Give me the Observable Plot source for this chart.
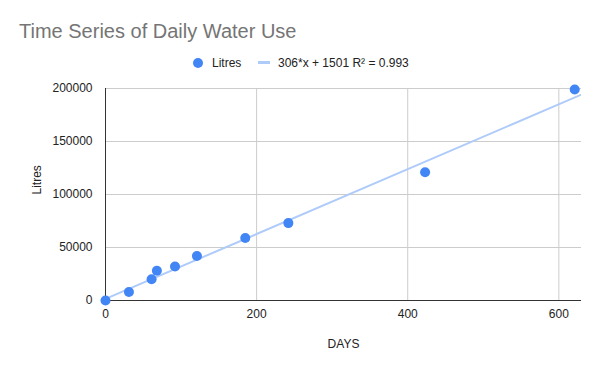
<!DOCTYPE html>
<html><head><meta charset="utf-8">
<script src="https://cdn.jsdelivr.net/npm/d3@7"></script>
<script src="https://cdn.jsdelivr.net/npm/@observablehq/plot@0.6"></script>
<style>
html,body{margin:0;padding:0;background:#fff;font-family:"Liberation Sans",Arial,sans-serif;}
#wrap{position:relative;width:600px;height:371px;overflow:hidden;}
#title{position:absolute;left:19px;top:21px;font-size:20px;line-height:20px;color:#757575;white-space:nowrap;}
.lg{position:absolute;font-size:12px;line-height:12px;color:#222;white-space:nowrap;}
#chart{position:absolute;left:0;top:70px;}
</style></head>
<body><div id="wrap">
<div id="title">Time Series of Daily Water Use</div>
<span style="position:absolute;left:192.5px;top:57.5px;width:10px;height:10px;border-radius:50%;background:#4285f4"></span>
<span class="lg" style="left:212px;top:56.5px">Litres</span>
<span style="position:absolute;left:258px;top:61px;width:12px;height:3px;background:#aecbfa"></span>
<span class="lg" style="left:278px;top:56.5px">306*x + 1501 R² = 0.993</span>
<div id="chart"></div>
</div>
<script>
const days = [0, 31, 61, 68, 92, 121, 185, 242, 423, 621];
const litres = [0, 8000, 20000, 28000, 32000, 42000, 59000, 73000, 121000, 199000];
const trendSlope = 306;
const trendIntercept = 1501;
const xTicks = [0, 200, 400, 600];
const yTicks = [0, 50000, 100000, 150000, 200000];
const xDomain = [0, 630];

const pts = days.map((d, i) => ({day: d, litres: litres[i]}));
const trend = xDomain.map(d => ({day: d, litres: trendSlope * d + trendIntercept}));

const plot = Plot.plot({
  width: 600, height: 301,
  marginLeft: 105, marginRight: 19, marginTop: 18, marginBottom: 71,
  style: {fontFamily: "'Liberation Sans', Arial, sans-serif", fontSize: "12px", color: "#222"},
  x: {domain: xDomain, ticks: xTicks, tickSize: 0, tickPadding: 9, label: null, tickFormat: d => String(d)},
  y: {domain: [0, 200000], ticks: yTicks, tickSize: 0, tickPadding: 13, label: null, tickFormat: d => String(d)},
  marks: [
    Plot.gridX(xTicks, {stroke: "#cccccc", strokeOpacity: 1}),
    Plot.gridY(yTicks, {stroke: "#cccccc", strokeOpacity: 1}),
    Plot.ruleX([0], {stroke: "#333"}),
    Plot.ruleY([0], {stroke: "#333"}),
    Plot.line(trend, {x: "day", y: "litres", stroke: "#aecbfa", strokeWidth: 2, clip: true}),
    Plot.dot(pts, {x: "day", y: "litres", r: 5, fill: "#4285f4"}),
    Plot.text(["DAYS"], {frameAnchor: "bottom", dy: 47, fill: "#222", fontSize: 12}),
    Plot.text(["Litres"], {frameAnchor: "left", dx: -68, rotate: -90, fill: "#222", fontSize: 12})
  ]
});
document.getElementById("chart").appendChild(plot);
</script>
</body></html>
